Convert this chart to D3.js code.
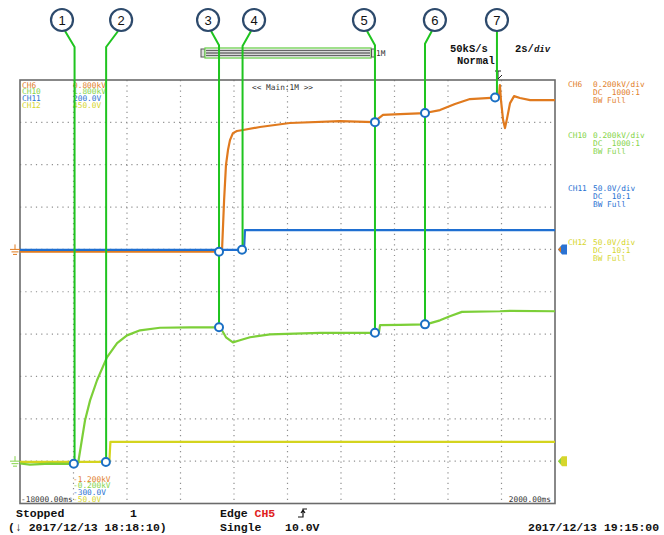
<!DOCTYPE html>
<html><head><meta charset="utf-8">
<script src="https://cdn.jsdelivr.net/npm/d3@7/dist/d3.min.js"></script>
<style>
body{margin:0;background:#fff;}
svg{display:block;}
.sm{font-family:"DejaVu Sans Mono",monospace;font-size:7.8px;}
.st{font-family:"Liberation Mono",monospace;font-size:11.5px;font-weight:bold;fill:#111;}
</style></head>
<body>
<svg id="c" width="664" height="535"></svg>
<script>
// ---- data (time in s, CH6/CH10 in kV, CH11/CH12 in V) ----
const ch6T = [-18,-10.45,-10.37,-10.30,-10.225,-10.15,-10.04,-9.89,-9.66,-9.03,-7.91,-6.04,-4.77,-4.62,-4.43,-3.79,-2.86,-2.30,-1.74,-1.18,-0.24,-0.095,-0.06,-0.02,0.06,0.13,0.21,0.32,0.47,0.69,1.07,2.0];
const ch6V = [-0.011,-0.011,0.233,0.398,0.469,0.516,0.549,0.559,0.564,0.578,0.597,0.606,0.601,0.616,0.635,0.639,0.644,0.658,0.687,0.710,0.717,0.724,0.776,0.705,0.611,0.573,0.620,0.691,0.724,0.715,0.705,0.705];
const ch10T = [-18,-17.63,-16.88,-16.13,-15.83,-15.57,-15.38,-15.12,-14.75,-14.37,-14.0,-13.51,-12.77,-11.64,-10.60,-10.45,-10.30,-10.04,-9.78,-9.40,-8.65,-6.78,-4.73,-4.58,-4.54,-3.79,-2.82,-2.30,-1.93,-1.48,-0.06,0.32,2.0];
const ch10V = [-0.011,-0.016,-0.012,-0.013,-0.011,0.192,0.287,0.382,0.490,0.557,0.594,0.618,0.630,0.632,0.632,0.618,0.585,0.561,0.571,0.585,0.599,0.606,0.606,0.609,0.642,0.644,0.646,0.665,0.684,0.705,0.708,0.710,0.708];
const ch11T = [-18,-9.626,-9.59,2.0];
const ch11V = [-0.5,-0.5,22.7,22.7];
const ch12T = [-18,-14.66,-14.62,2.0];
const ch12V = [-0.9,-0.9,22.7,22.7];
// cursors 1..7 : time of cursor, time of label bubble, end channel/value
const cursorT = [-15.96,-14.78,-10.56,-9.68,-4.73,-2.86,-0.17];
const labelT  = [-16.43,-14.22,-10.97,-9.25,-5.14,-2.49,-0.17];
const cursorEndCh = ["CH10","CH12","CH10","CH11","CH10","CH10","CH6"];
const cursorEndV  = [-0.012,-0.9,0.632,-0.5,0.606,0.646,0.717];
// measurement dots
const dotT  = [-15.99,-14.79,-10.56,-10.56,-9.70,-4.73,-4.73,-2.86,-2.86,-0.24];
const dotCh = ["CH10","CH12","CH6","CH10","CH11","CH6","CH10","CH6","CH10","CH6"];
const dotV  = [-0.012,-0.9,-0.011,0.632,-0.5,0.601,0.606,0.644,0.646,0.717];
// channel settings
const chNames = ["CH6","CH10","CH11","CH12"];
const chTop   = ["0.800kV","1.800kV","200.0V","450.0V"];
const chBot   = ["-1.200kV","-0.200kV","-300.0V","-50.0V"];
const chScaleTxt = ["0.200kV/div","0.200kV/div","50.0V/div","50.0V/div"];
const chCoup  = ["DC  1000:1","DC  1000:1","DC  10:1","DC  10:1"];
const chDomain = [[-1.2,0.8],[-0.2,1.8],[-300,200],[-50,450]];
const xTicksLbl = ["-18000.00ms","2000.00ms"];

// ---- layout ----
const L=20,R=555,T=80,B=503.5;
const col = {CH6:"#e2802c",CH10:"#86d44a",CH11:"#2a72d2",CH12:"#d6d62c"};
const lineCol = {CH6:"#e07a1e",CH10:"#7ccf38",CH11:"#1f6fd1",CH12:"#d4d41e"};
const svg=d3.select("#c");
const x=d3.scaleLinear().domain([-18,2]).range([L,R]);
const div=d3.scaleLinear().domain([0,10]).range([B,T]);
const ys={};
chNames.forEach((c,i)=>ys[c]=d3.scaleLinear().domain(chDomain[i]).range([B,T]));

// grid
const g=svg.append("g");
x.ticks(10).forEach(t=>{ if(t>-18&&t<2) g.append("line").attr("x1",x(t)).attr("x2",x(t)).attr("y1",T).attr("y2",B)
  .attr("stroke","#8f8f8f").attr("stroke-width",1.2).attr("stroke-dasharray","1.2,4.1");});
d3.range(1,10).forEach(d=>g.append("line").attr("x1",L).attr("x2",R).attr("y1",div(d)).attr("y2",div(d))
  .attr("stroke","#8f8f8f").attr("stroke-width",1.2).attr("stroke-dasharray","1.2,4.1"));
// frame
svg.append("rect").attr("x",L).attr("y",T).attr("width",R-L).attr("height",B-T)
  .attr("fill","none").attr("stroke","#6b6b6b").attr("stroke-width",1.6);

// traces
function trace(ch,ts,vs,w){
  const line=d3.line().x(d=>x(d[0])).y(d=>ys[ch](d[1]));
  svg.append("path").datum(ts.map((t,i)=>[t,vs[i]])).attr("d",line)
    .attr("fill","none").attr("stroke",lineCol[ch]).attr("stroke-width",w).attr("stroke-linejoin","round");
}
trace("CH12",ch12T,ch12V,2.2);
trace("CH10",ch10T,ch10V,2.2);
trace("CH6",ch6T,ch6V,2.2);
trace("CH11",ch11T,ch11V,2.2);

// legend top-left
chNames.forEach((c,i)=>{
  svg.append("text").attr("class","sm").attr("x",22).attr("y",87.5+i*6.7).attr("fill",col[c]).text(c);
  svg.append("text").attr("class","sm").attr("x",73).attr("y",87.5+i*6.7).attr("fill",col[c]).text(chTop[i]);
  svg.append("text").attr("class","sm").attr("x",73).attr("y",481.5+i*6.7).attr("fill",col[c]).text(chBot[i]);
});
svg.append("text").attr("class","sm").attr("x",21).attr("y",502).attr("fill","#333").text(xTicksLbl[0]);
svg.append("text").attr("class","sm").attr("x",551).attr("y",502).attr("fill","#333").attr("text-anchor","end").text(xTicksLbl[1]);
svg.append("text").attr("class","sm").attr("x",252).attr("y",90).attr("fill","#333").text("<< Main:1M >>");

// right channel info
const infoY=[87,138,191,245];
chNames.forEach((c,i)=>{
  const gy=infoY[i];
  svg.append("text").attr("class","sm").attr("x",568).attr("y",gy).attr("fill",col[c]).text(c);
  svg.append("text").attr("class","sm").attr("x",593).attr("y",gy).attr("fill",col[c]).text(chScaleTxt[i]);
  svg.append("text").attr("class","sm").attr("x",593).attr("y",gy+7.9).attr("fill",col[c]).style("white-space","pre").text(chCoup[i]);
  svg.append("text").attr("class","sm").attr("x",593).attr("y",gy+15.8).attr("fill",col[c]).text("BW Full");
});

// right position markers
function marker(yv,fill,tip){
  svg.append("path").attr("d",`M${R+3},${yv} L${R+7},${yv-5} L${R+12},${yv-5} L${R+12},${yv+5} L${R+7},${yv+5} Z`).attr("fill",fill);
  svg.append("path").attr("d",`M${R+3},${yv} L${R+6},${yv-3} L${R+6},${yv+3} Z`).attr("fill",tip);
}
marker(ys.CH11(0),"#2a72d2","#e07a1e");
marker(ys.CH12(0),"#d6d62c","#86d44a");

// ground symbols left
function ground(yv,c){
  const p=`M15,${yv-5} L15,${yv} M10,${yv} L20,${yv} M11.5,${yv+2.5} L18.5,${yv+2.5} M13,${yv+5} L17,${yv+5}`;
  svg.append("path").attr("d",p).attr("stroke",c).attr("stroke-width",1).attr("fill","none");
}
ground(ys.CH6(0),"#e07a1e");
ground(ys.CH10(0),"#86d44a");

// zoom bar
const zb=svg.append("g");
zb.append("rect").attr("x",201).attr("y",49).attr("width",4).attr("height",8).attr("fill","#ddd").attr("stroke","#555").attr("stroke-width",1);
zb.append("rect").attr("x",205).attr("y",48).attr("width",166).attr("height",10).attr("fill","#fff").attr("stroke","#6ed050").attr("stroke-width",1.3);
[50.5,53,55.5].forEach(yy=>zb.append("line").attr("x1",206).attr("x2",370).attr("y1",yy).attr("y2",yy).attr("stroke","#666").attr("stroke-width",1.3));
zb.append("rect").attr("x",371.5).attr("y",49).attr("width",3).attr("height",8).attr("fill","#ddd").attr("stroke","#555").attr("stroke-width",1);
svg.append("text").attr("class","sm").attr("x",376).attr("y",56).attr("fill","#333").text("1M");

svg.append("text").attr("class","st").style("font-size","10.5px").attr("x",450).attr("y",52).text("50kS/s");
const sd=svg.append("text").attr("class","st").style("font-size","10.5px").attr("x",515).attr("y",52);
sd.append("tspan").text("2s/");
sd.append("tspan").style("font-size","9px").style("font-style","italic").text("div");
svg.append("text").attr("class","st").style("font-size","10.5px").attr("x",457).attr("y",64).text("Normal");
// trigger marker
svg.append("path").attr("d","M495,71 L501,71 M498,71 L498,79 M498,79 L502,75").attr("stroke","#222").attr("stroke-width",1).attr("fill","none");

// cursors
cursorT.forEach((t,i)=>{
  const cx=x(t), lx=x(labelT[i]);
  const yEnd=ys[cursorEndCh[i]](cursorEndV[i]);
  const startY=31, bendY=31+Math.min(16,Math.abs(cx-lx)*1.3);
  const dir=cx>lx?1:-1;
  svg.append("path").attr("d",`M${lx+dir*Math.min(3,Math.abs(cx-lx))},${startY} L${cx},${bendY} L${cx},${yEnd}`)
    .attr("fill","none").attr("stroke","#1fc41f").attr("stroke-width",2);
  svg.append("circle").attr("cx",lx).attr("cy",20).attr("r",11).attr("fill","#fff").attr("stroke","#2d4a6c").attr("stroke-width",2.2);
  svg.append("text").attr("x",lx).attr("y",25).attr("text-anchor","middle").style("font-family","Arial,'Liberation Sans',sans-serif").style("font-size","13px").attr("fill","#111").text(i+1);
});

// dots
dotT.forEach((t,i)=>{
  svg.append("circle").attr("cx",x(t)).attr("cy",ys[dotCh[i]](dotV[i])).attr("r",4)
    .attr("fill","#fff").attr("stroke","#1a6fc4").attr("stroke-width",2);
});

// status line
const st=svg.append("g");
st.append("text").attr("class","st").attr("x",16).attr("y",517).text("Stopped");
st.append("text").attr("class","st").attr("x",130).attr("y",517).text("1");
st.append("text").attr("class","st").attr("x",8).attr("y",531).text("(\u2193 2017/12/13 18:18:10)");
const e=st.append("text").attr("class","st").attr("x",220).attr("y",517);
e.append("tspan").text("Edge ");
e.append("tspan").attr("fill","#e02020").text("CH5");
st.append("path").attr("d","M298,517 L303,517 L303,509 L307,509 M301,513 L303,510 L305,513").attr("stroke","#111").attr("stroke-width",1.2).attr("fill","none");
st.append("text").attr("class","st").attr("x",220).attr("y",531).text("Single");
st.append("text").attr("class","st").attr("x",285).attr("y",531).text("10.0V");
st.append("text").attr("class","st").attr("x",528).attr("y",531).text("2017/12/13 19:15:00");
</script>
</body></html>
